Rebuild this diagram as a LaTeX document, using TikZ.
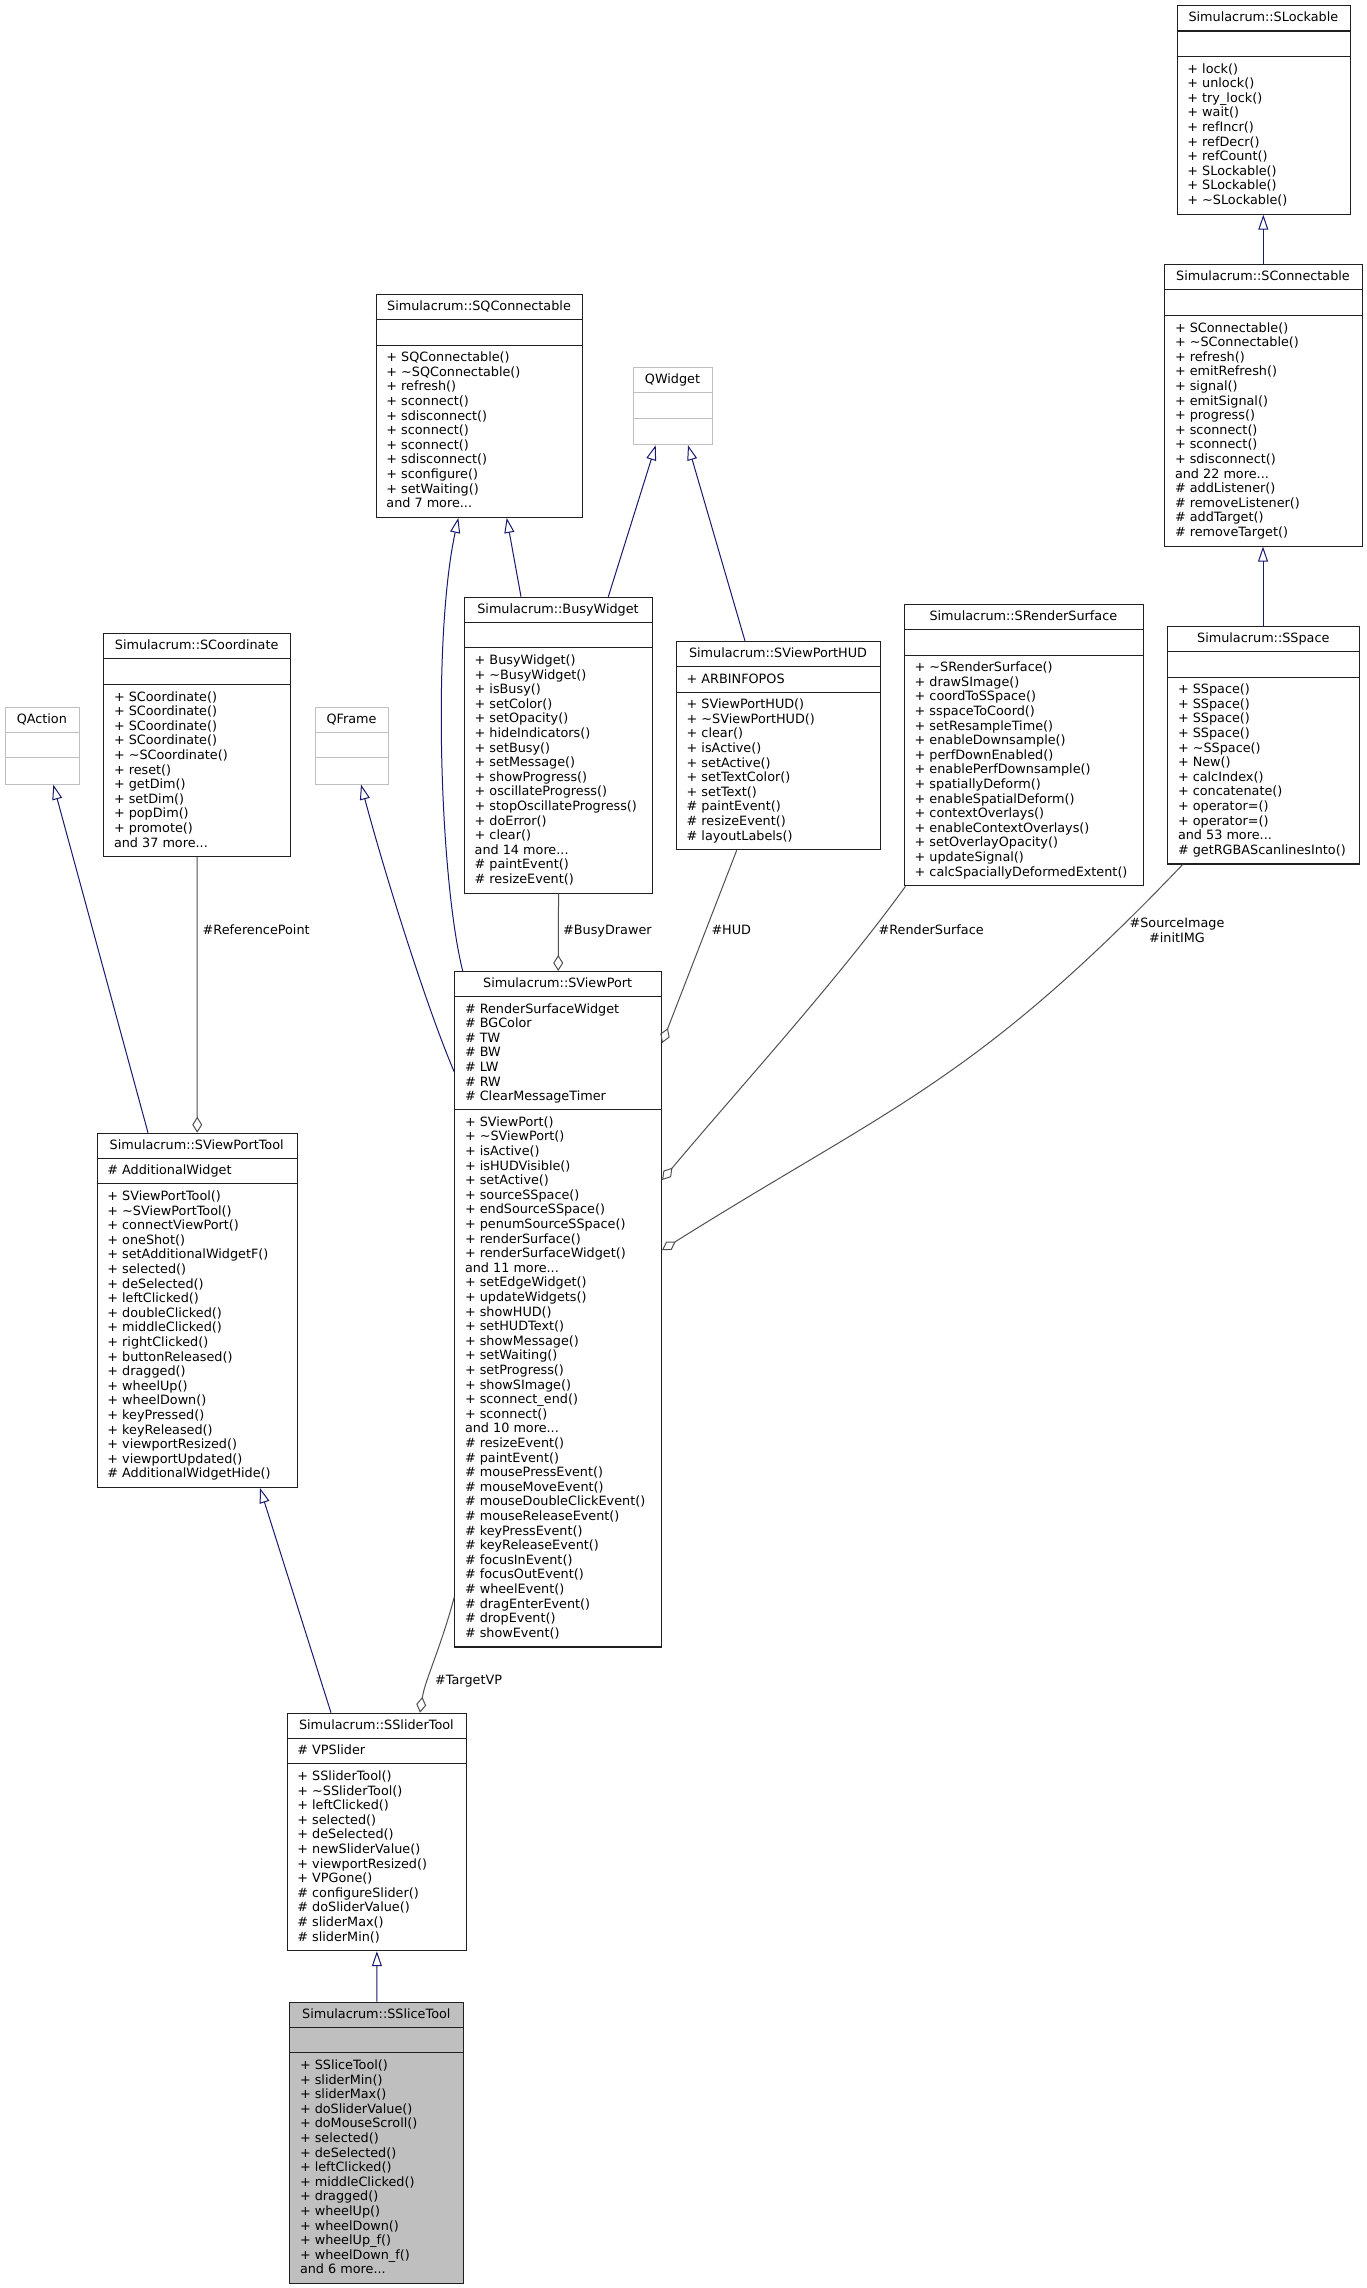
\documentclass[tikz,border=0pt]{standalone}
\usepackage{fontspec}
\setmainfont{DejaVu Sans}
\usetikzlibrary{arrows.meta}
\definecolor{navyedge}{HTML}{191970}
\definecolor{collab}{HTML}{505050}
\definecolor{grayfill}{HTML}{BFBFBF}
\definecolor{extborder}{HTML}{BFBFBF}
\definecolor{clsborder}{HTML}{202020}
\newcommand\clsfont{\fontsize{12.8pt}{14.6pt}\selectfont}
\newcommand{\umlclass}[9]{%
  \pgfmathsetmacro\clsA{max(#6,1)*14.6+11}%
  \pgfmathsetmacro\clsM{max(#8,1)*14.6+11}%
  \pgfmathsetmacro\clsH{25.6+\clsA+\clsM}%
  \pgfmathsetmacro\clsSa{#3+25.6}%
  \pgfmathsetmacro\clsSb{#3+25.6+\clsA}%
  \pgfmathsetmacro\clsXr{#2+#4}%
  \pgfmathsetmacro\clsXc{#2+#4/2}%
  \pgfmathsetmacro\clsXt{#2+10.5}%
  \pgfmathsetmacro\clsYt{#3+16.3}%
  \pgfmathsetmacro\clsYa{\clsSa+6.08}%
  \pgfmathsetmacro\clsYm{\clsSb+6.08}%
  \node[clsframe, minimum width=#4pt, minimum height=\clsH pt, anchor=north west] (#1) at (#2,#3) {};
  \draw[clsline] (#2,\clsSa) -- (\clsXr,\clsSa) (#2,\clsSb) -- (\clsXr,\clsSb);
  \node[clstext, anchor=base] (#1-t) at (\clsXc,\clsYt) {#5};
  \node[clstext, anchor=north west, align=left] (#1-a) at (\clsXt,\clsYa) {\strut{}#7};
  \node[clstext, anchor=north west, align=left] (#1-m) at (\clsXt,\clsYm) {\strut{}#9};
}
\tikzset{
  clsframe/.style={draw=clsborder, line width=1.1pt, fill=white, inner sep=0pt, rectangle},
  clsline/.style={draw=clsborder, line width=1.1pt},
  clstext/.style={inner sep=0pt, font=\clsfont, text=black},
  lbl/.style={inner sep=0pt, font=\clsfont, text=black},
  inh/.style={draw=navyedge, line width=1pt, -{Triangle[open, length=15pt, width=10pt]}},
  agg/.style={draw=collab, line width=1pt, -{Diamond[open, length=16pt, width=10pt]}}
}
\begin{document}
\begin{tikzpicture}[x=1pt,y=-1pt]
\fill[white] (0,0) rectangle (1367,2288);
\useasboundingbox (0,0) rectangle (1367,2288);

\umlclass{SLockable}{1176.7}{5.4}{173.3}{Simulacrum::SLockable}{0}{}{10}{+ lock()\\+ unlock()\\+ try\_lock()\\+ wait()\\+ refIncr()\\+ refDecr()\\+ refCount()\\+ SLockable()\\+ SLockable()\\+ \textasciitilde SLockable()}

\umlclass{SConnectable}{1164.3}{264.3}{197.4}{Simulacrum::SConnectable}{0}{}{15}{+ SConnectable()\\+ \textasciitilde SConnectable()\\+ refresh()\\+ emitRefresh()\\+ signal()\\+ emitSignal()\\+ progress()\\+ sconnect()\\+ sconnect()\\+ sdisconnect()\\and 22 more...\\\# addListener()\\\# removeListener()\\\# addTarget()\\\# removeTarget()}

\umlclass{SQConnectable}{375.7}{294}{206.6}{Simulacrum::SQConnectable}{0}{}{11}{+ SQConnectable()\\+ \textasciitilde SQConnectable()\\+ refresh()\\+ sconnect()\\+ sdisconnect()\\+ sconnect()\\+ sconnect()\\+ sdisconnect()\\+ sconfigure()\\+ setWaiting()\\and 7 more...}

\begin{scope}[clsframe/.append style={draw=extborder}, clsline/.append style={draw=extborder}]
\umlclass{QWidget}{633.3}{367.3}{78.4}{QWidget}{0}{}{0}{}
\umlclass{QAction}{5}{706.7}{73.7}{QAction}{0}{}{0}{}
\umlclass{QFrame}{314.7}{706.7}{73.6}{QFrame}{0}{}{0}{}
\end{scope}

\umlclass{SCoordinate}{103.3}{633.3}{186.7}{Simulacrum::SCoordinate}{0}{}{11}{+ SCoordinate()\\+ SCoordinate()\\+ SCoordinate()\\+ SCoordinate()\\+ \textasciitilde SCoordinate()\\+ reset()\\+ getDim()\\+ setDim()\\+ popDim()\\+ promote()\\and 37 more...}

\umlclass{BusyWidget}{464}{596.7}{188}{Simulacrum::BusyWidget}{0}{}{16}{+ BusyWidget()\\+ \textasciitilde BusyWidget()\\+ isBusy()\\+ setColor()\\+ setOpacity()\\+ hideIndicators()\\+ setBusy()\\+ setMessage()\\+ showProgress()\\+ oscillateProgress()\\+ stopOscillateProgress()\\+ doError()\\+ clear()\\and 14 more...\\\# paintEvent()\\\# resizeEvent()}

\umlclass{SViewPortHUD}{676}{641}{204}{Simulacrum::SViewPortHUD}{1}{+ ARBINFOPOS}{10}{+ SViewPortHUD()\\+ \textasciitilde SViewPortHUD()\\+ clear()\\+ isActive()\\+ setActive()\\+ setTextColor()\\+ setText()\\\# paintEvent()\\\# resizeEvent()\\\# layoutLabels()}

\umlclass{SRenderSurface}{904}{604}{238.7}{Simulacrum::SRenderSurface}{0}{}{15}{+ \textasciitilde SRenderSurface()\\+ drawSImage()\\+ coordToSSpace()\\+ sspaceToCoord()\\+ setResampleTime()\\+ enableDownsample()\\+ perfDownEnabled()\\+ enablePerfDownsample()\\+ spatiallyDeform()\\+ enableSpatialDeform()\\+ contextOverlays()\\+ enableContextOverlays()\\+ setOverlayOpacity()\\+ updateSignal()\\+ calcSpaciallyDeformedExtent()}

\umlclass{SSpace}{1167.3}{626}{192}{Simulacrum::SSpace}{0}{}{12}{+ SSpace()\\+ SSpace()\\+ SSpace()\\+ SSpace()\\+ \textasciitilde SSpace()\\+ New()\\+ calcIndex()\\+ concatenate()\\+ operator=()\\+ operator=()\\and 53 more...\\\# getRGBAScanlinesInto()}

\umlclass{SViewPort}{454.3}{971}{206.7}{Simulacrum::SViewPort}{7}{\# RenderSurfaceWidget\\\# BGColor\\\# TW\\\# BW\\\# LW\\\# RW\\\# ClearMessageTimer}{36}{+ SViewPort()\\+ \textasciitilde SViewPort()\\+ isActive()\\+ isHUDVisible()\\+ setActive()\\+ sourceSSpace()\\+ endSourceSSpace()\\+ penumSourceSSpace()\\+ renderSurface()\\+ renderSurfaceWidget()\\and 11 more...\\+ setEdgeWidget()\\+ updateWidgets()\\+ showHUD()\\+ setHUDText()\\+ showMessage()\\+ setWaiting()\\+ setProgress()\\+ showSImage()\\+ sconnect\_end()\\+ sconnect()\\and 10 more...\\\# resizeEvent()\\\# paintEvent()\\\# mousePressEvent()\\\# mouseMoveEvent()\\\# mouseDoubleClickEvent()\\\# mouseReleaseEvent()\\\# keyPressEvent()\\\# keyReleaseEvent()\\\# focusInEvent()\\\# focusOutEvent()\\\# wheelEvent()\\\# dragEnterEvent()\\\# dropEvent()\\\# showEvent()}

\umlclass{SViewPortTool}{96.7}{1132.7}{200}{Simulacrum::SViewPortTool}{1}{\# AdditionalWidget}{20}{+ SViewPortTool()\\+ \textasciitilde SViewPortTool()\\+ connectViewPort()\\+ oneShot()\\+ setAdditionalWidgetF()\\+ selected()\\+ deSelected()\\+ leftClicked()\\+ doubleClicked()\\+ middleClicked()\\+ rightClicked()\\+ buttonReleased()\\+ dragged()\\+ wheelUp()\\+ wheelDown()\\+ keyPressed()\\+ keyReleased()\\+ viewportResized()\\+ viewportUpdated()\\\# AdditionalWidgetHide()}

\umlclass{SSliderTool}{286.7}{1712.7}{179.3}{Simulacrum::SSliderTool}{1}{\# VPSlider}{12}{+ SSliderTool()\\+ \textasciitilde SSliderTool()\\+ leftClicked()\\+ selected()\\+ deSelected()\\+ newSliderValue()\\+ viewportResized()\\+ VPGone()\\\# configureSlider()\\\# doSliderValue()\\\# sliderMax()\\\# sliderMin()}

\begin{scope}[clsframe/.append style={fill=grayfill}]
\umlclass{SSliceTool}{289.3}{2001.7}{174}{Simulacrum::SSliceTool}{0}{}{15}{+ SSliceTool()\\+ sliderMin()\\+ sliderMax()\\+ doSliderValue()\\+ doMouseScroll()\\+ selected()\\+ deSelected()\\+ leftClicked()\\+ middleClicked()\\+ dragged()\\+ wheelUp()\\+ wheelDown()\\+ wheelUp\_f()\\+ wheelDown\_f()\\and 6 more...}
\end{scope}

% inheritance
\draw[inh] ([xshift=99pt]SConnectable.north west) -- ([xshift=86.6pt]SLockable.south west);
\draw[inh] ([xshift=95.7pt]SSpace.north west) -- ([xshift=98.7pt]SConnectable.south west);
\draw[inh] ([xshift=57pt]BusyWidget.north west) -- ([xshift=131pt]SQConnectable.south west);
\draw[inh] ([xshift=144.3pt]BusyWidget.north west) -- ([xshift=22.4pt]QWidget.south west);
\draw[inh] ([xshift=69pt]SViewPortHUD.north west) -- ([xshift=54.7pt]QWidget.south west);
\draw[inh] ([xshift=8.4pt]SViewPort.north west) .. controls (440,880) and (432,640) .. ([xshift=82.6pt]SQConnectable.south west);
\draw[inh] ([yshift=-101pt]SViewPort.north west) .. controls (428.5,1012) and (387,882) .. ([xshift=46.3pt]QFrame.south west);
\draw[inh] ([xshift=51.3pt]SViewPortTool.north west) -- ([xshift=48.3pt]QAction.south west);
\draw[inh] ([xshift=44.3pt]SSliderTool.north west) -- ([xshift=163.3pt]SViewPortTool.south west);
\draw[inh] (SSliceTool.north) -- (SSliderTool.south);

% collaboration
\draw[agg] (SCoordinate.south) -- (SViewPortTool.north);
\draw[agg] (BusyWidget.south) -- (SViewPort.north);
\draw[agg] ([xshift=60.7pt]SViewPortHUD.south west) -- ([yshift=-72pt]SViewPort.north east);
\draw[agg] ([xshift=1.5pt]SRenderSurface.south west) .. controls (837,981) and (737.5,1090) .. ([yshift=-209pt]SViewPort.north east);
\draw[agg] ([xshift=15.4pt]SSpace.south west) .. controls (974.7,1082.2) and (890.4,1106.6) .. ([yshift=-279pt]SViewPort.north east);
\draw[agg] ([yshift=-626pt]SViewPort.north west) .. controls (440,1650) and (425,1680) .. ([xshift=133.3pt]SSliderTool.north west);

% labels
\node[lbl, anchor=base west] (lRef) at (202.5,934.6) {\#ReferencePoint};
\node[lbl, anchor=base west] (lBusy) at (563,934.6) {\#BusyDrawer};
\node[lbl, anchor=base west] (lHud) at (711.3,934.6) {\#HUD};
\node[lbl, anchor=base west] (lRend) at (878.4,934.6) {\#RenderSurface};
\node[lbl, anchor=north, align=center] (lSrc) at (1177,917.4) {\strut{}\#SourceImage\\\#initIMG};
\node[lbl, anchor=base west] (lTgt) at (435,1684.2) {\#TargetVP};
\end{tikzpicture}
\end{document}
